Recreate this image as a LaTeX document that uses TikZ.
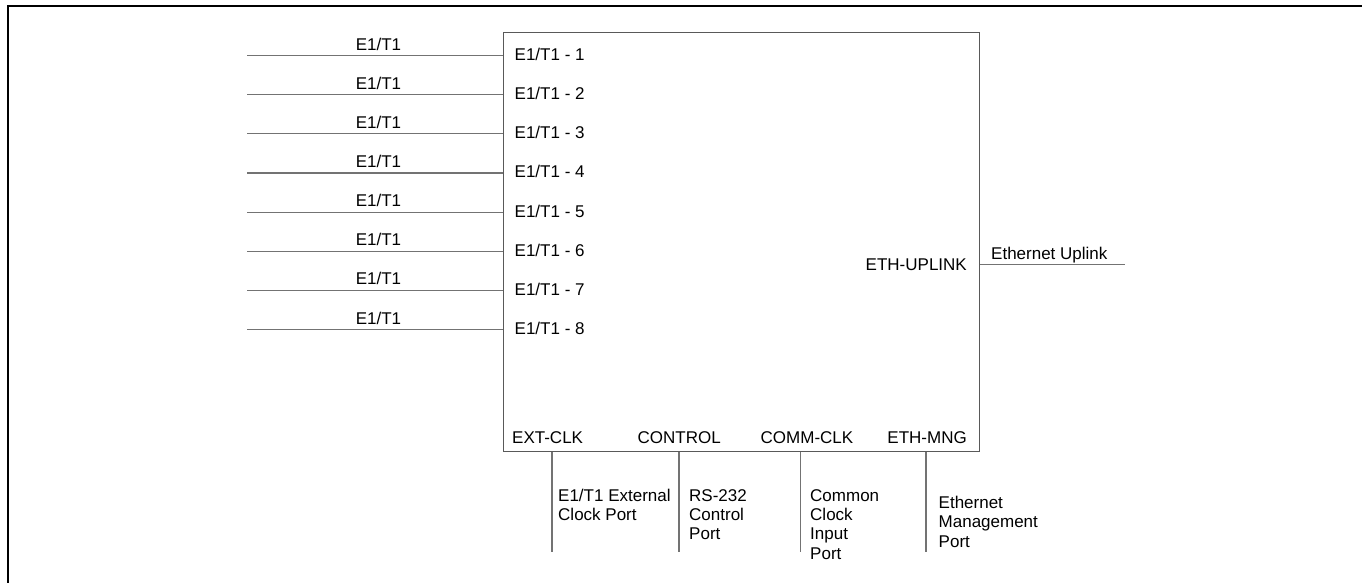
\documentclass[tikz,border=0pt]{standalone}
\usepackage{fontspec}
\setmainfont{Liberation Sans}
\begin{document}
\begin{tikzpicture}[x=1pt,y=-1pt,
  lab/.style={inner sep=0pt,font=\fontsize{17}{19.3}\selectfont,text=black},
  desc/.style={lab,align=left,anchor=north west},
  wire/.style={draw=black!55,line width=1.2pt},
  unit/.style={draw=black!65,line width=1.2pt,rectangle,inner sep=0pt,anchor=north west,
    minimum width=475.5pt,minimum height=419.5pt}]
\useasboundingbox (0,0) rectangle (1362,582);
\clip (0,0) rectangle (1362,582);
% outer frame (only left and top edges are visible)
\draw[line width=2.2pt,black] (8,600) -- (8,6) -- (1400,6);
% main unit
\node[unit] (box) at (503,31.5) {};
% E1/T1 inputs
\foreach \i in {1,...,8}{
  \pgfmathsetmacro{\yy}{55.5+39.15*(\i-1)}
  \coordinate (a\i) at (247,\yy);
  \draw[wire] (a\i) -- (a\i -| box.west);
  \node[lab,anchor=base] (t\i) at (378.5,\yy-5.5) {E1/T1};
  \node[lab,anchor=base west] (p\i) at (514.5,\yy+5) {E1/T1 - \i};
}
% uplink
\node[lab,anchor=base east] (up) at (967,270.7) {ETH-UPLINK};
\coordinate (ue) at (1125,264.3);
\draw[wire] (box.east |- ue) -- (ue);
\node[lab,anchor=base west] (upl) at (991,259.3) {Ethernet Uplink};
% bottom ports
\node[lab,anchor=base west] (extclk) at (512,443.3) {EXT-CLK};
\node[lab,anchor=base west] (control) at (637.5,443.3) {CONTROL};
\node[lab,anchor=base west] (commclk) at (760.5,443.3) {COMM-CLK};
\node[lab,anchor=base east] (ethmng) at (967,443.3) {ETH-MNG};
\coordinate (b1) at (552,551.5);
\coordinate (b2) at (679,551.5);
\coordinate (b3) at (800.7,551.5);
\coordinate (b4) at (926,551.5);
\foreach \k in {1,...,4}{\draw[wire] (b\k |- box.south) -- (b\k);}
\node[desc] (d1) at (558,501-13) {\rule{0pt}{13pt}E1/T1 External\\Clock Port};
\node[desc] (d2) at (689,501-13) {\rule{0pt}{13pt}RS-232\\Control\\Port};
\node[desc] (d3) at (810,501-13) {\rule{0pt}{13pt}Common\\Clock\\Input\\Port};
\node[desc] (d4) at (938.5,508.3-13) {\rule{0pt}{13pt}Ethernet\\Management\\Port};
\end{tikzpicture}
\end{document}
